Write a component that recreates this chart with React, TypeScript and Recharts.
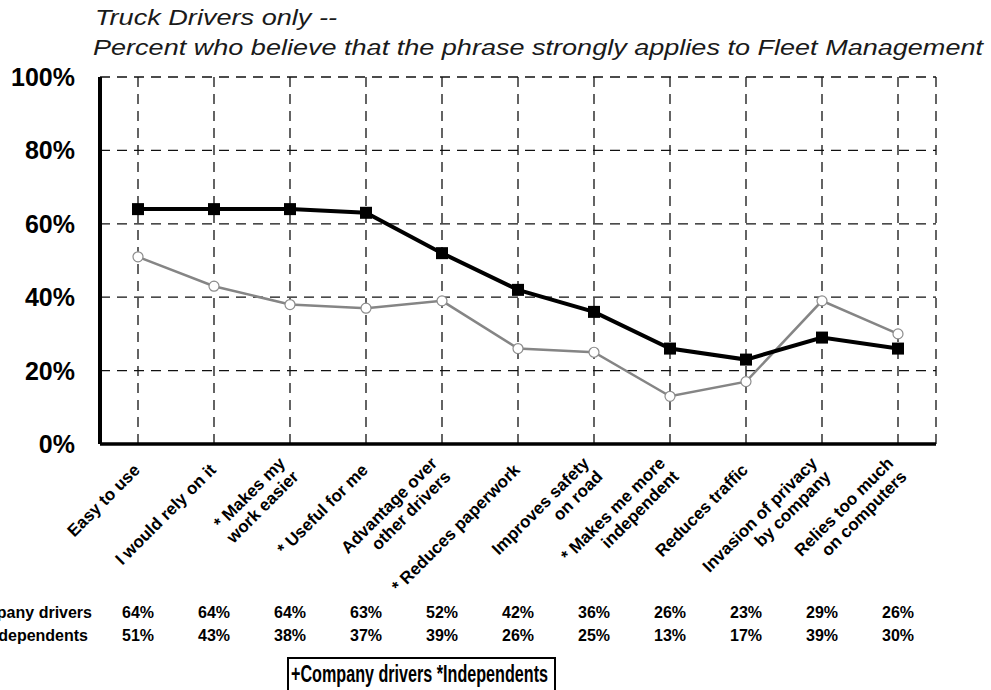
import React from 'react'
import { LineChart, Line, XAxis, YAxis, CartesianGrid } from 'recharts'

const categories = [
  'Easy to use',
  'I would rely on it',
  '* Makes my\nwork easier',
  '* Useful for me',
  'Advantage over\nother drivers',
  '* Reduces paperwork',
  'Improves safety\non road',
  '* Makes me more\nindependent',
  'Reduces traffic',
  'Invasion of privacy\nby company',
  'Relies too much\non computers',
]
const companyDrivers = [64, 64, 64, 63, 52, 42, 36, 26, 23, 29, 26]
const independents = [51, 43, 38, 37, 39, 26, 25, 13, 17, 39, 30]
const yTicks = [0, 20, 40, 60, 80, 100]

const FONT = '"Liberation Sans", Arial, sans-serif'

const data = categories.map((name, i) => ({
  name,
  company: companyDrivers[i],
  indep: independents[i],
}))

function CategoryTick(props: any) {
  const { x, y, payload, index } = props
  const lines = String(payload.value).split('\n')
  const lh = 19
  return (
    <g>
      <g transform={`translate(${x + 3},${y + 27}) rotate(-45)`}>
        <text textAnchor="end" fontFamily={FONT} fontSize={17} fontWeight="bold" fill="#000">
          {lines.map((l, i) => (
            <tspan key={i} x={0} dy={i === 0 ? -((lines.length - 1) / 2) * lh : lh}>
              {l}
            </tspan>
          ))}
        </text>
      </g>
      <text x={x} y={y + 174} textAnchor="middle" fontFamily={FONT} fontSize={16} fontWeight="bold" fill="#000">
        {companyDrivers[index]}%
      </text>
      <text x={x} y={y + 197} textAnchor="middle" fontFamily={FONT} fontSize={16} fontWeight="bold" fill="#000">
        {independents[index]}%
      </text>
    </g>
  )
}

function PercentTick(props: any) {
  const { x, y, payload } = props
  return (
    <text x={x} y={y} dy={9} textAnchor="end" fontFamily={FONT} fontSize={25} fontWeight="bold" fill="#000">
      {payload.value}%
    </text>
  )
}

function SquareDot(props: any) {
  const { cx, cy, index } = props
  return <rect key={`sq-${index}`} x={cx - 6} y={cy - 6} width={12} height={12} fill="#000" />
}

function OpenDot(props: any) {
  const { cx, cy, index } = props
  return <circle key={`od-${index}`} cx={cx} cy={cy} r={5} fill="#fff" stroke="#8c8c8c" strokeWidth={1.2} />
}

export default function App() {
  return (
    <div style={{ position: 'absolute', left: 0, top: 0, width: 991, height: 690, background: '#fff', overflow: 'hidden' }}>
      <LineChart width={991} height={690} data={data} margin={{ top: 77, right: 55, bottom: 0, left: 0 }}>
        <CartesianGrid stroke="#111" strokeWidth={1.3} strokeDasharray="10 7" horizontalValues={yTicks} />
        <XAxis
          dataKey="name"
          interval={0}
          height={246}
          padding={{ left: 38, right: 38 }}
          tickSize={0}
          tickMargin={0}
          tickLine={false}
          axisLine={{ stroke: '#000', strokeWidth: 3.5 }}
          tick={<CategoryTick />}
        />
        <XAxis
          xAxisId="top"
          dataKey="name"
          orientation="top"
          height={0}
          tick={false}
          tickLine={false}
          axisLine={{ stroke: '#000', strokeWidth: 2.5 }}
        />
        <YAxis
          domain={[0, 100]}
          ticks={yTicks}
          width={100}
          tickSize={0}
          tickMargin={25}
          tickLine={false}
          axisLine={{ stroke: '#000', strokeWidth: 4 }}
          tick={<PercentTick />}
        />
        <YAxis
          yAxisId="right"
          orientation="right"
          domain={[0, 100]}
          width={0}
          tick={false}
          tickLine={false}
          axisLine={{ stroke: '#000', strokeWidth: 2.5 }}
        />
        <Line
          dataKey="indep"
          stroke="#858585"
          strokeWidth={2.5}
          dot={<OpenDot />}
          isAnimationActive={false}
        />
        <Line
          dataKey="company"
          stroke="#000"
          strokeWidth={4}
          dot={<SquareDot />}
          isAnimationActive={false}
        />
      </LineChart>

      <svg width={991} height={690} style={{ position: 'absolute', left: 0, top: 0, pointerEvents: 'none' }}>
        <text x={95} y={25} fontFamily={FONT} fontStyle="italic" fontSize={22} fill="#1a1a1a" textLength={242} lengthAdjust="spacingAndGlyphs">
          Truck Drivers only --
        </text>
        <text x={93} y={55} fontFamily={FONT} fontStyle="italic" fontSize={22} fill="#1a1a1a" textLength={890} lengthAdjust="spacingAndGlyphs">
          Percent who believe that the phrase strongly applies to Fleet Management
        </text>
        <text x={92} y={618} textAnchor="end" fontFamily={FONT} fontSize={16} fontWeight="bold" fill="#000">
          Company drivers
        </text>
        <text x={88} y={641} textAnchor="end" fontFamily={FONT} fontSize={16} fontWeight="bold" fill="#000">
          Independents
        </text>
        <path d="M288 692 V658 H555 V692" fill="none" stroke="#000" strokeWidth={2} />
        <text x={291} y={682} fontFamily={FONT} fontSize={23} fontWeight="bold" fill="#000" textLength={257} lengthAdjust="spacingAndGlyphs">
          +Company drivers *Independents
        </text>
      </svg>
    </div>
  )
}
